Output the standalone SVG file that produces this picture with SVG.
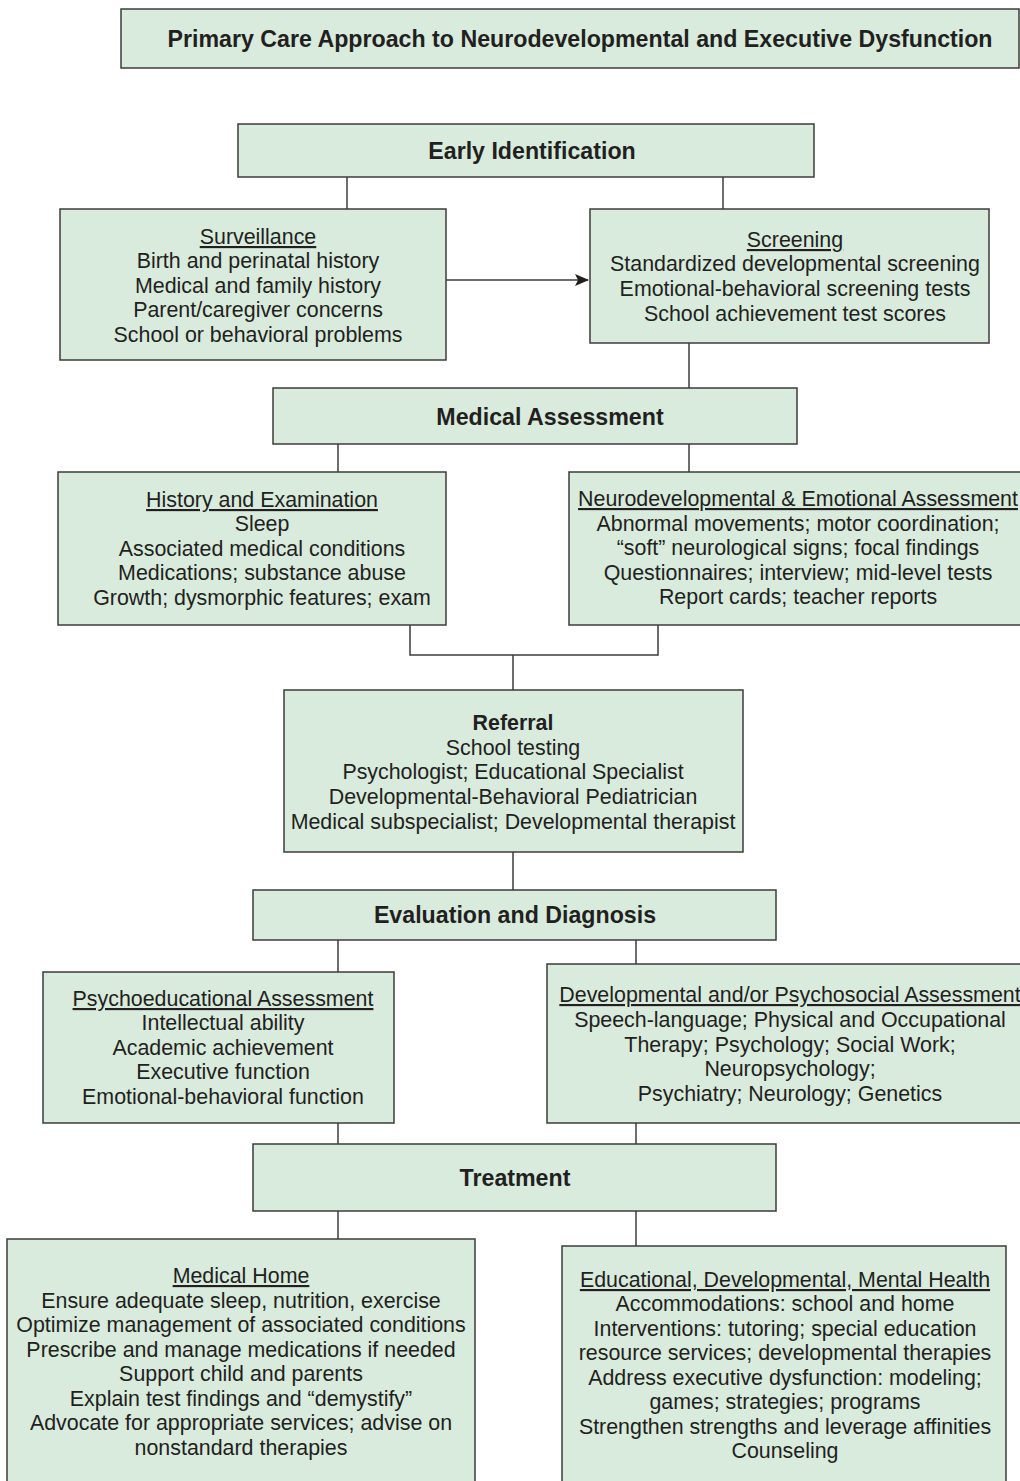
<svg xmlns="http://www.w3.org/2000/svg" width="1020" height="1481" viewBox="0 0 1020 1481">
<style>
.box{fill:#d8ebdd;stroke:#3c3c3c;stroke-width:1.5}
.ln{fill:none;stroke:#3c3c3c;stroke-width:1.5}
text{font-family:"Liberation Sans",Arial,sans-serif;fill:#231f20;text-anchor:middle}
.t{font-size:21.4px}
.h{font-size:23.2px;font-weight:bold}
.title{font-size:23.2px;font-weight:bold}
.u{text-decoration:underline}
</style>
<defs>
<marker id="arr" markerWidth="14" markerHeight="12" refX="13" refY="6" orient="auto" markerUnits="userSpaceOnUse">
<path d="M0,0 L14,6 L0,12 L3,6 Z" fill="#231f20"/>
</marker>
</defs>
<rect width="1020" height="1481" fill="#ffffff"/>
<g id="connectors">
<line class="ln" x1="347" y1="177" x2="347" y2="209"/>
<line class="ln" x1="723" y1="177" x2="723" y2="209"/>
<line class="ln" x1="446" y1="280" x2="588" y2="280" marker-end="url(#arr)"/>
<line class="ln" x1="689" y1="343" x2="689" y2="388"/>
<line class="ln" x1="338" y1="444" x2="338" y2="472"/>
<line class="ln" x1="689" y1="444" x2="689" y2="472"/>
<polyline class="ln" points="410,625 410,655 658,655 658,625"/>
<line class="ln" x1="513" y1="655" x2="513" y2="690"/>
<line class="ln" x1="513" y1="852" x2="513" y2="890"/>
<line class="ln" x1="338" y1="940" x2="338" y2="972"/>
<line class="ln" x1="636" y1="940" x2="636" y2="964"/>
<line class="ln" x1="338" y1="1123" x2="338" y2="1144"/>
<line class="ln" x1="636" y1="1123" x2="636" y2="1144"/>
<line class="ln" x1="338" y1="1211" x2="338" y2="1239"/>
<line class="ln" x1="636" y1="1211" x2="636" y2="1246"/>
</g>
<g id="title">
<rect class="box" x="121" y="9" width="898" height="59"/>
<text class="title" x="580" y="47">Primary Care Approach to Neurodevelopmental and Executive Dysfunction</text>
</g>
<g id="early-identification">
<rect class="box" x="238" y="124" width="576" height="53"/>
<text class="h" x="532" y="159">Early Identification</text>
</g>
<g id="surveillance">
<rect class="box" x="60" y="209" width="386" height="151"/>
<text class="t u" x="258" y="244">Surveillance</text>
<text class="t" x="258" y="268">Birth and perinatal history</text>
<text class="t" x="258" y="293">Medical and family history</text>
<text class="t" x="258" y="317">Parent/caregiver concerns</text>
<text class="t" x="258" y="342">School or behavioral problems</text>
</g>
<g id="screening">
<rect class="box" x="590" y="209" width="399" height="134"/>
<text class="t u" x="795" y="247">Screening</text>
<text class="t" x="795" y="271">Standardized developmental screening</text>
<text class="t" x="795" y="296">Emotional-behavioral screening tests</text>
<text class="t" x="795" y="321">School achievement test scores</text>
</g>
<g id="medical-assessment">
<rect class="box" x="273" y="388" width="524" height="56"/>
<text class="h" x="550" y="425">Medical Assessment</text>
</g>
<g id="history-examination">
<rect class="box" x="58" y="472" width="388" height="153"/>
<text class="t u" x="262" y="507">History and Examination</text>
<text class="t" x="262" y="531">Sleep</text>
<text class="t" x="262" y="556">Associated medical conditions</text>
<text class="t" x="262" y="580">Medications; substance abuse</text>
<text class="t" x="262" y="605">Growth; dysmorphic features; exam</text>
</g>
<g id="neurodevelopmental-assessment">
<rect class="box" x="569" y="472" width="460" height="153"/>
<text class="t u" x="798" y="506">Neurodevelopmental &amp; Emotional Assessment</text>
<text class="t" x="798" y="531">Abnormal movements; motor coordination;</text>
<text class="t" x="798" y="555">“soft” neurological signs; focal findings</text>
<text class="t" x="798" y="580">Questionnaires; interview; mid-level tests</text>
<text class="t" x="798" y="604">Report cards; teacher reports</text>
</g>
<g id="referral">
<rect class="box" x="284" y="690" width="459" height="162"/>
<text class="t" x="513" y="730" style="font-weight:bold">Referral</text>
<text class="t" x="513" y="755">School testing</text>
<text class="t" x="513" y="779">Psychologist; Educational Specialist</text>
<text class="t" x="513" y="804">Developmental-Behavioral Pediatrician</text>
<text class="t" x="513" y="829">Medical subspecialist; Developmental therapist</text>
</g>
<g id="evaluation-diagnosis">
<rect class="box" x="253" y="890" width="523" height="50"/>
<text class="h" x="515" y="923">Evaluation and Diagnosis</text>
</g>
<g id="psychoeducational-assessment">
<rect class="box" x="43" y="972" width="351" height="151"/>
<text class="t u" x="223" y="1006">Psychoeducational Assessment</text>
<text class="t" x="223" y="1030">Intellectual ability</text>
<text class="t" x="223" y="1055">Academic achievement</text>
<text class="t" x="223" y="1079">Executive function</text>
<text class="t" x="223" y="1104">Emotional-behavioral function</text>
</g>
<g id="developmental-psychosocial-assessment">
<rect class="box" x="547" y="964" width="482" height="159"/>
<text class="t u" x="790" y="1002">Developmental and/or Psychosocial Assessment</text>
<text class="t" x="790" y="1027">Speech-language; Physical and Occupational</text>
<text class="t" x="790" y="1052">Therapy; Psychology; Social Work;</text>
<text class="t" x="790" y="1076">Neuropsychology;</text>
<text class="t" x="790" y="1101">Psychiatry; Neurology; Genetics</text>
</g>
<g id="treatment">
<rect class="box" x="253" y="1144" width="523" height="67"/>
<text class="h" x="515" y="1186">Treatment</text>
</g>
<g id="medical-home">
<rect class="box" x="7" y="1239" width="468" height="260"/>
<text class="t u" x="241" y="1283">Medical Home</text>
<text class="t" x="241" y="1308">Ensure adequate sleep, nutrition, exercise</text>
<text class="t" x="241" y="1332">Optimize management of associated conditions</text>
<text class="t" x="241" y="1357">Prescribe and manage medications if needed</text>
<text class="t" x="241" y="1381">Support child and parents</text>
<text class="t" x="241" y="1406">Explain test findings and “demystify”</text>
<text class="t" x="241" y="1430">Advocate for appropriate services; advise on</text>
<text class="t" x="241" y="1455">nonstandard therapies</text>
</g>
<g id="educational-developmental-mental-health">
<rect class="box" x="562" y="1246" width="444" height="260"/>
<text class="t u" x="785" y="1287">Educational, Developmental, Mental Health</text>
<text class="t" x="785" y="1311">Accommodations: school and home</text>
<text class="t" x="785" y="1336">Interventions: tutoring; special education</text>
<text class="t" x="785" y="1360">resource services; developmental therapies</text>
<text class="t" x="785" y="1385">Address executive dysfunction: modeling;</text>
<text class="t" x="785" y="1409">games; strategies; programs</text>
<text class="t" x="785" y="1434">Strengthen strengths and leverage affinities</text>
<text class="t" x="785" y="1458">Counseling</text>
</g>
</svg>
